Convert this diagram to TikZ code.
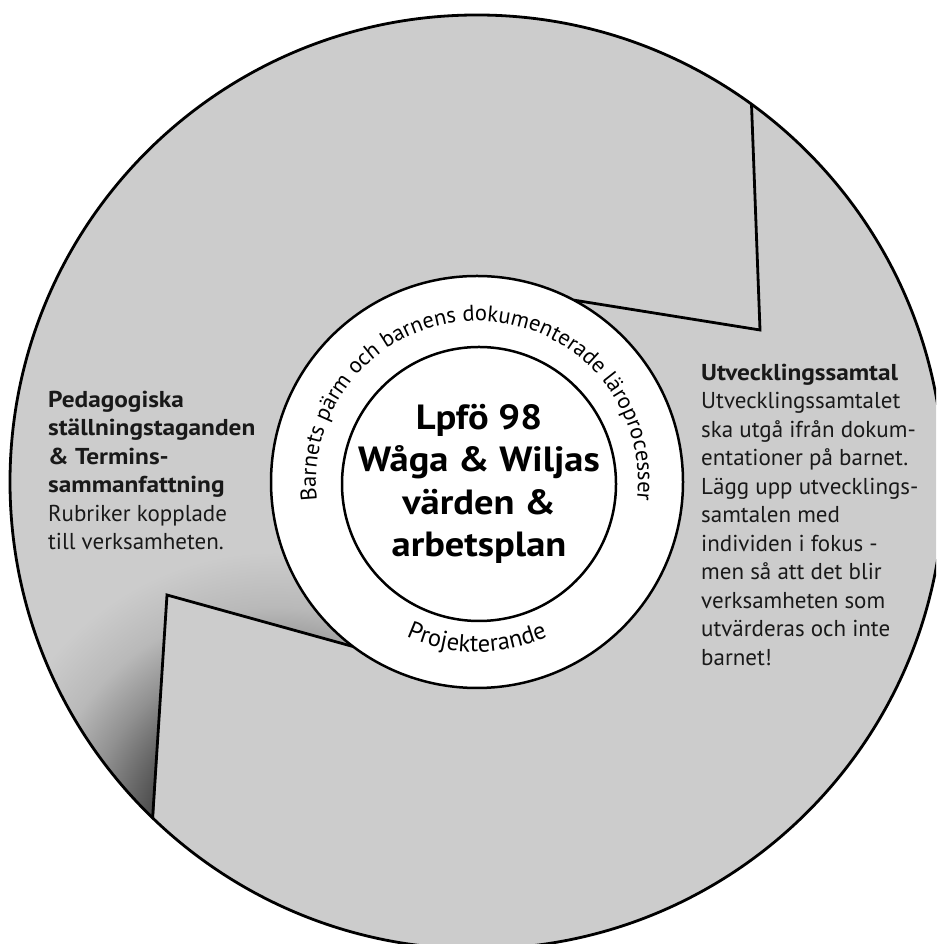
\documentclass[tikz,border=0pt]{standalone}
\usepackage{fontspec}
\setmainfont{PT Sans}[BoldFeatures={FakeStretch=1.1}]
\usetikzlibrary{decorations.text}
\definecolor{bggray}{RGB}{204,204,204}
\definecolor{shA}{RGB}{45,45,45}
\definecolor{shB}{RGB}{80,80,80}
\definecolor{shC}{RGB}{145,145,145}
\definecolor{shD}{RGB}{185,185,185}
\definecolor{txt}{RGB}{25,25,25}
% radius 300pt maps to 25bp
\pgfdeclareradialshading{foldshade}{\pgfpoint{0bp}{0bp}}{color(0bp)=(shA); color(10.8bp)=(shB); color(15.8bp)=(shC); color(19.6bp)=(shD); color(24.2bp)=(bggray); color(50bp)=(bggray)}
\begin{document}
\begin{tikzpicture}[x=1pt,y=1pt,
  outline/.style={draw=black, line width=2.8pt},
  ringline/.style={draw=black, line width=2.5pt},
  zig/.style={draw=black, line width=2.8pt, line join=miter},
  body/.style={font=\fontsize{23}{28.5}\selectfont, text=txt, align=left, inner sep=0pt},
  coretext/.style={font=\fontsize{35}{42.5}\selectfont\bfseries, align=center, inner sep=0pt}]
\useasboundingbox (0,0) rectangle (936,944);
\clip (0,0) rectangle (936,944);
\fill[white] (0,0) rectangle (936,944);
\coordinate (C) at (477,462);
% big disc
\node[circle, minimum size=934pt, inner sep=0pt, outer sep=0pt, fill=bggray] (disc) at (C) {};
% fold shadow
\begin{scope}
  \clip (C) circle (467);
  \clip (154,127) -- (167,349) -- (353,297) -- (480,480) -- (0,700) -- (0,0) -- (154,0) -- cycle;
  \shade[shading=foldshade] (275,102) circle (300);
\end{scope}
\node[circle, minimum size=934pt, inner sep=0pt, outer sep=0pt, outline] (discline) at (C) {};
% zigzag connectors
\node[circle, minimum size=412pt, inner sep=0pt, outer sep=0pt] (ringpos) at (C) {};
\coordinate (A2) at (760,614);
\coordinate (B2) at (167,349);
\draw[zig] (ringpos.62) -- (A2) -- (discline.54);
\draw[zig] (ringpos.233) -- (B2) -- (discline.226);
% white ring and core
\node[circle, minimum size=412pt, inner sep=0pt, outer sep=0pt, fill=white, ringline] (ring) at (C) {};
\node[circle, minimum size=274pt, inner sep=0pt, outer sep=0pt, ringline] (core) at (479,460) {};
% centre text
\node[coretext] (coretxt) at (479,460) {Lpfö 98\\Wåga \& Wiljas\\värden \&\\arbetsplan};
% curved texts
\path[decorate, decoration={text along path, text align=center,
  text={|\fontsize{22.5}{26}\selectfont|Barnets pärm och barnens dokumenterade läroprocesser}}]
  ([shift={(189:161)}]C) arc[start angle=189, end angle=-9, radius=161];
\path[decorate, decoration={text along path, text align=center,
  text={|\fontsize{24.5}{28}\selectfont|Projekterande}}]
  ([shift={(-120:170)}]C) arc[start angle=-120, end angle=-60, radius=170];
% side texts
\node[body, anchor=north west] (lefttxt) at (48,553.5) {\textbf{Pedagogiska}\\\textbf{ställningstaganden}\\\textbf{\& Termins-}\\\textbf{sammanfattning}\\Rubriker kopplade\\till verksamheten.};
\node[body, anchor=north west] (righttxt) at (701,580.5) {\textbf{Utvecklingssamtal}\\Utvecklingssamtalet\\ska utgå ifrån dokum-\\entationer på barnet.\\Lägg upp utvecklings-\\samtalen med\\individen i fokus -\\men så att det blir\\verksamheten som\\utvärderas och inte\\barnet!};
\end{tikzpicture}
\end{document}
